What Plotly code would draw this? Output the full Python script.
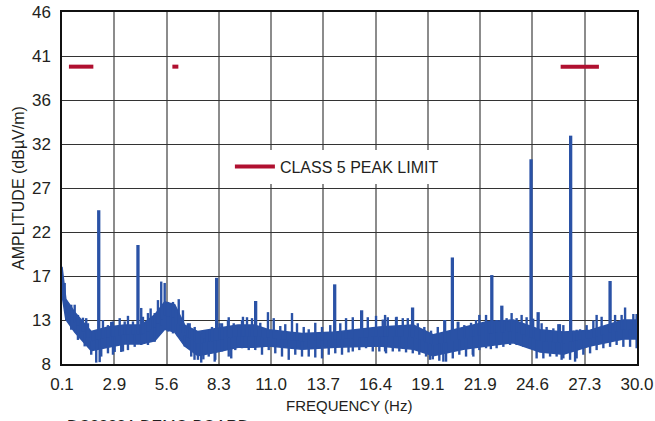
import numpy as np
import plotly.graph_objects as go

# ---- data ----
# solid core of the measured noise floor (frequency in Hz, amplitude in dBµV/m)
core_f = [0.1, 0.3, 0.76, 1.62, 2.49, 3.36, 4.22, 4.92, 5.44, 5.96, 6.48, 7.17, 8.04, 9.25, 10.1,
          10.85, 12.58, 14.31, 16.6, 18.37, 19.41, 20.97, 22.18, 23.57, 24.96, 26.17, 27.56, 29.29, 30.0]
core_hi = [18.5, 15.0, 13.6, 11.5, 12.0, 12.2, 12.2, 13.3, 14.7, 14.4, 12.2, 11.5, 11.8, 12.2, 12.2,
           11.7, 11.3, 11.45, 12.0, 12.2, 11.15, 11.9, 12.55, 12.75, 11.7, 11.45, 11.65, 12.75, 12.75]
core_lo = [15.5, 12.8, 11.45, 9.45, 9.8, 10.15, 10.15, 10.5, 11.75, 11.45, 9.95, 8.9, 9.25, 9.8, 9.8,
           9.95, 9.6, 9.8, 9.95, 9.6, 8.9, 9.6, 9.95, 10.3, 9.3, 9.05, 9.95, 10.7, 10.7]

# local noise maxima (tops of the small upward ticks)
peak_f = [0.24, 0.32, 0.41, 0.58, 0.76, 0.93, 1.19, 1.36, 1.45, 1.71, 1.88, 2.23, 2.49, 2.66, 2.75, 3.1,
          3.36, 3.53, 3.79, 4.22, 4.31, 4.57, 4.71, 4.92, 5.09, 5.26, 5.44, 5.61, 5.87, 6.17, 6.39, 6.65,
          6.74, 7.0, 7.34, 7.52, 7.64, 7.78, 7.9, 8.3, 8.42, 8.73, 8.77, 9.03, 9.29, 9.46, 9.51, 9.72,
          9.98, 10.41, 10.81, 11.11, 11.45, 11.71, 12.06, 12.32, 12.67, 12.93, 13.27, 13.62, 14.05,
          14.57, 14.87, 15.22, 16.0, 16.43, 16.78, 16.9, 17.04, 17.47, 17.5, 17.82, 18.08, 18.6, 18.94,
          19.29, 19.64, 19.98, 20.02, 20.68, 20.71, 21.02, 21.37, 21.63, 21.8, 22.15, 22.35, 22.7,
          23.22, 23.48, 23.74, 24.0, 24.26, 24.6, 25.04, 25.3, 25.65, 25.91, 25.99, 26.17, 26.69,
          26.86, 27.04, 27.38, 27.73, 27.9, 28.16, 28.86, 29.2, 29.38, 29.81, 29.98]
peak_v = [16.75, 14.55, 14.6, 14.4, 14.4, 13.3, 13.0, 12.95, 12.4, 11.5, 11.35, 12.75, 12.2, 12.55, 12.6, 12.95,
          12.6, 13.2, 12.6, 14.05, 13.1, 13.5, 14.0, 13.5, 14.9, 16.9, 16.75, 14.7, 14.7, 15.0, 13.8, 12.4,
          12.4, 12.0, 11.3, 10.8, 11.65, 11.7, 12.0, 12.4, 12.4, 12.75, 13.05, 12.4, 12.2, 12.75, 13.1, 13.05,
          12.95, 12.45, 13.6, 12.95, 12.1, 12.3, 13.5, 12.4, 12.0, 11.75, 12.45, 12.0, 12.2,
          12.4, 12.95, 13.05, 13.05, 13.2, 12.8, 13.3, 13.05, 13.05, 13.1, 12.95, 12.95, 12.4, 12.0,
          11.6, 12.0, 12.75, 12.75, 12.55, 12.55, 12.2, 12.45, 12.75, 13.3, 13.3, 12.55, 12.75,
          12.95, 13.5, 12.95, 13.3, 13.05, 12.9, 12.4, 12.0, 11.85, 12.3, 12.3, 12.2, 11.6,
          11.7, 11.75, 12.2, 12.7, 13.3, 13.1, 13.3, 13.3, 14.1, 13.4, 13.4]

# local noise minima (bottoms of the small downward ticks)
dip_f = [0.32, 0.58, 0.93, 1.28, 1.62, 1.88, 2.06, 2.14, 2.49, 2.75, 2.84, 3.18, 3.27, 3.53, 3.88, 4.22,
         4.57, 4.92, 5.09, 5.26, 5.61, 5.87, 6.13, 6.48, 6.82, 6.99, 7.17, 7.34, 7.45, 7.73, 8.04, 8.07,
         8.42, 8.77, 8.9, 9.11, 9.46, 9.81, 10.15, 10.5, 10.85, 11.19, 11.54, 11.89, 12.23, 12.58, 12.93,
         13.27, 13.62, 13.97, 14.31, 14.66, 15.0, 15.22, 15.56, 15.91, 16.26, 16.6, 16.9, 16.95, 17.3,
         17.64, 17.99, 18.34, 18.68, 19.03, 19.24, 19.38, 19.72, 19.93, 20.07, 20.42, 20.76, 21.11,
         21.46, 21.49, 21.8, 22.15, 22.4, 22.7, 23.05, 23.4, 23.74, 24.09, 24.44, 24.78, 25.13, 25.48,
         25.82, 26.08, 26.17, 26.52, 26.78, 26.86, 27.21, 27.56, 27.9, 28.25, 28.6, 28.94, 29.29,
         29.64, 29.98]
dip_v = [12.75, 11.7, 10.6, 9.9, 9.0, 8.15, 8.2, 8.8, 9.15, 9.0, 9.3, 9.3, 9.35, 9.5, 9.85, 10.05,
         10.05, 10.4, 11.3, 12.2, 11.5, 11.3, 11.0, 9.9, 8.8, 8.45, 8.45, 8.15, 8.5, 8.8, 8.25, 8.45,
         9.35, 8.8, 8.6, 9.5, 9.7, 9.5, 9.5, 9.0, 9.5, 9.15, 8.8, 8.45, 9.0, 8.8, 8.8,
         8.7, 8.6, 9.0, 9.15, 9.0, 9.25, 9.35, 9.5, 9.7, 9.35, 9.35, 9.35, 9.15, 9.35,
         9.35, 9.25, 9.15, 9.0, 8.8, 8.45, 8.5, 8.35, 8.25, 8.25, 8.6, 9.0, 8.8,
         9.0, 8.8, 9.5, 9.7, 9.6, 9.7, 9.85, 10.05, 10.05, 9.85, 9.7, 8.6, 8.6, 8.8,
         8.8, 8.45, 8.6, 8.45, 8.25, 8.6, 9.0, 9.15, 9.5, 9.7, 9.85, 10.05, 9.85,
         9.85, 9.7]

# discrete emission spikes
spike_f = [2.01, 4.05, 8.14, 10.17, 14.28, 15.68, 18.33, 20.4, 22.45, 22.97, 24.49, 24.86, 26.55, 28.6]
spike_top = [24.6, 20.85, 17.3, 14.8, 16.6, 13.8, 14.1, 19.5, 17.6, 14.3, 30.1, 13.6, 32.65, 16.96]

# CISPR 25 class 5 peak limit segments
limit_f = [[0.46, 1.73], [5.84, 6.15], [26.03, 28.02]]
limit_v = 40.1

x_ticklabels = ["0.1", "2.9", "5.6", "8.3", "11.0", "13.7", "16.4", "19.1", "21.9", "24.6", "27.3", "30.0"]
y_ticklabels = ["8", "13", "17", "22", "27", "32", "36", "41", "46"]
x_range = [0.1, 30.0]
y_range = [8.0, 46.0]

BLUE = "#2a52a6"
RED = "#b01030"
TXT = "#231f20"
FONT = "Liberation Sans, Arial, Helvetica, sans-serif"

x_tickvals = list(np.linspace(x_range[0], x_range[1], len(x_ticklabels)))
y_tickvals = list(np.linspace(y_range[0], y_range[1], len(y_ticklabels)))

fig = go.Figure()

# solid noise core
poly_x = core_f + core_f[::-1]
poly_y = core_hi + core_lo[::-1]
fig.add_trace(go.Scatter(x=poly_x, y=poly_y, fill="toself", fillcolor=BLUE, mode="lines",
                         line=dict(color=BLUE, width=1.5), showlegend=False, hoverinfo="skip"))

# small noise ticks (up and down) anchored in the core
core_mid_f = np.array(core_f)
core_mid_v = (np.array(core_hi) + np.array(core_lo)) / 2
nx, ny = [], []
for f, v in zip(peak_f, peak_v):
    nx += [f, f, None]
    ny += [float(np.interp(f, core_mid_f, core_mid_v)), v, None]
for f, v in zip(dip_f, dip_v):
    nx += [f, f, None]
    ny += [float(np.interp(f, core_mid_f, core_mid_v)), v, None]
fig.add_trace(go.Scatter(x=nx, y=ny, mode="lines", line=dict(color=BLUE, width=2.4),
                         showlegend=False, hoverinfo="skip"))

# discrete spikes
sx, sy = [], []
for f, t in zip(spike_f, spike_top):
    sx += [f, f, None]
    sy += [float(np.interp(f, core_mid_f, core_mid_v)), t, None]
fig.add_trace(go.Scatter(x=sx, y=sy, mode="lines", line=dict(color=BLUE, width=3.3),
                         showlegend=False, hoverinfo="skip"))

# limit lines
lx, ly = [], []
for seg in limit_f:
    lx += [seg[0], seg[1], None]
    ly += [limit_v, limit_v, None]
fig.add_trace(go.Scatter(x=lx, y=ly, mode="lines", line=dict(color=RED, width=4),
                         name="CLASS 5 PEAK LIMIT", showlegend=True))

fig.update_layout(
    width=655, height=421, autosize=False,
    margin=dict(l=62, r=18, t=12, b=57, autoexpand=False),
    paper_bgcolor="white", plot_bgcolor="white",
    font=dict(family=FONT, size=16, color=TXT),
    showlegend=True,
    legend=dict(x=0.292, y=0.609, xanchor="left", yanchor="top", bgcolor="white",
                borderwidth=0, font=dict(family=FONT, size=16, color=TXT),
                itemwidth=40),
    xaxis=dict(range=x_range, tickvals=x_tickvals, ticktext=x_ticklabels, automargin=False,
               showgrid=True, gridcolor="#8c8c8c", gridwidth=1.6,
               showline=True, linecolor="#111", linewidth=1.5, mirror=True,
               zeroline=False, ticks="", ticklabelstandoff=4,
               tickfont=dict(family=FONT, size=17, color=TXT)),
    yaxis=dict(range=y_range, tickvals=y_tickvals, ticktext=y_ticklabels, automargin=False,
               showgrid=True, gridcolor="#333333", gridwidth=1.4,
               showline=True, linecolor="#111", linewidth=1.5, mirror=True,
               zeroline=False, ticks="", ticklabelstandoff=6,
               tickfont=dict(family=FONT, size=17, color=TXT)),
    annotations=[
        dict(text="FREQUENCY (Hz)", xref="paper", yref="paper", x=0.499, y=-0.119,
             xanchor="center", yanchor="middle", showarrow=False,
             font=dict(family=FONT, size=15, color=TXT)),
        dict(text="AMPLITUDE (dBµV/m)", xref="paper", yref="paper", x=-0.0765, y=0.5,
             xanchor="center", yanchor="middle", textangle=-90, showarrow=False,
             font=dict(family=FONT, size=16, color=TXT)),
        dict(text="DC2822A DEMO BOARD", xref="paper", yref="paper", x=0.005, y=-0.148,
             xanchor="left", yanchor="top", showarrow=False,
             font=dict(family=FONT, size=16, color=TXT)),
    ],
)

fig.write_html("out.html", config={"displayModeBar": False},
               post_script="document.body.style.margin='0';document.body.style.padding='0';")
